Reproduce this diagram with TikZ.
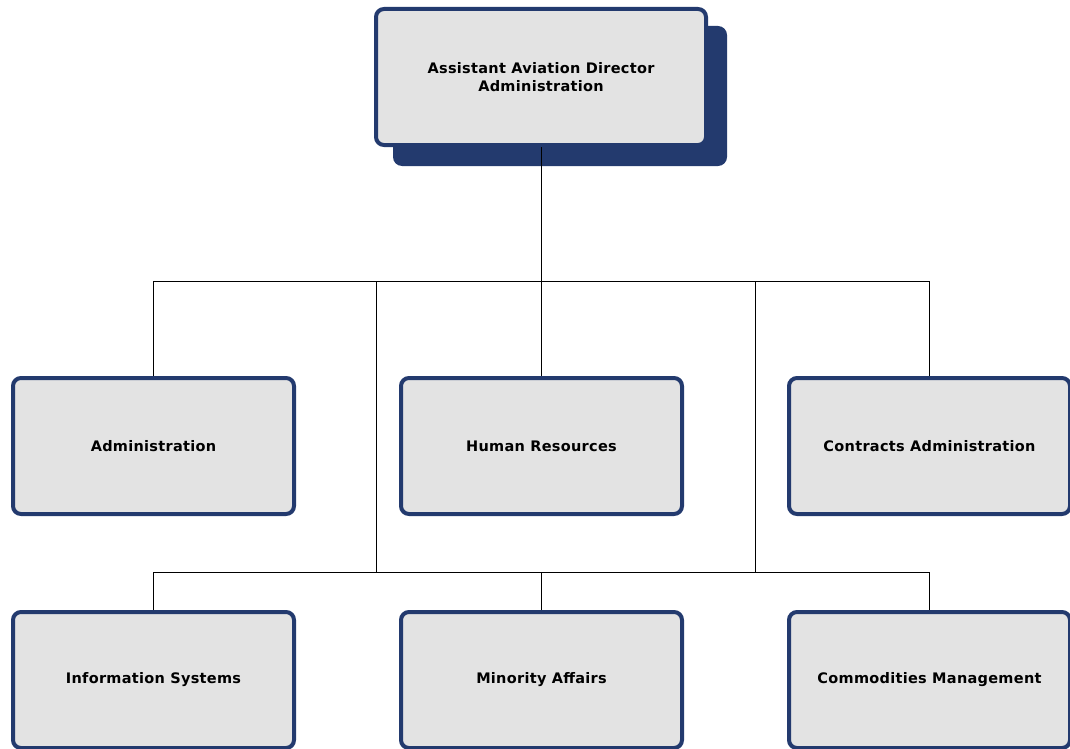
\documentclass[tikz,border=0pt]{standalone}
\usepackage{fontspec}
\setmainfont{DejaVu Sans}[LetterSpace=2]
\definecolor{navy}{HTML}{233A6E}
\definecolor{boxfill}{HTML}{E3E3E3}
\begin{document}
\begin{tikzpicture}[x=1pt,y=-1pt,
  unit/.style={draw=navy, fill=boxfill, line width=4pt, rounded corners=8pt,
    minimum width=281pt, minimum height=136pt, inner sep=0pt, align=center,
    font=\fontsize{14.5}{18}\selectfont\bfseries},
  shadowbox/.style={fill=navy, rounded corners=9pt, minimum width=334pt,
    minimum height=140pt, inner sep=0pt},
  conn/.style={draw=black, line width=1pt}]
\useasboundingbox (0,0) rectangle (1070,749);
\node[shadowbox] (topshadow) at (560,96) {};
\node[unit, minimum width=330pt] (top) at (541,77) {Assistant Aviation Director\\Administration};
\node[unit] (adm) at (153.5,446) {Administration};
\node[unit] (hr) at (541.5,446) {Human Resources};
\node[unit] (con) at (929.5,446) {Contracts Administration};
\node[unit] (inf) at (153.5,680) {Information Systems};
\node[unit] (min) at (541.5,680) {Minority Affairs};
\node[unit] (com) at (929.5,680) {Commodities Management};
\coordinate (b1) at (541,281);
\coordinate (b2) at (541,572);
\coordinate (j1) at (376,281);
\coordinate (j2) at (755,281);
\coordinate (k1) at (376,572);
\coordinate (k2) at (755,572);
% connectors
\draw[conn] (top.south) -- (top.south |- hr.north);
\draw[conn] (adm.north) -- (adm.north |- b1) -- (con.north |- b1) -- (con.north);
\draw[conn] (j1) -- (k1);
\draw[conn] (j2) -- (k2);
\draw[conn] (inf.north) -- (inf.north |- b2) -- (com.north |- b2) -- (com.north);
\draw[conn] (min.north) -- (min.north |- b2);
\end{tikzpicture}
\end{document}
